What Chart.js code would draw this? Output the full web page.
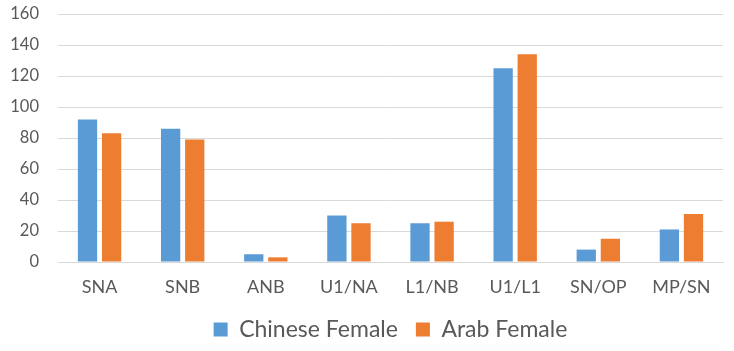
<!DOCTYPE html>
<html>
<head>
<meta charset="utf-8">
<script src="https://cdn.jsdelivr.net/npm/chart.js@4/dist/chart.umd.min.js"></script>
<style>
  html, body { margin: 0; padding: 0; background: #fff; }
  #wrap { width: 734px; height: 351px; }
</style>
</head>
<body>
<div id="wrap"><canvas id="chart"></canvas></div>
<script>
const categories = ['SNA', 'SNB', 'ANB', 'U1/NA', 'L1/NB', 'U1/L1', 'SN/OP', 'MP/SN'];
const chineseFemale = [92, 86, 5, 30, 25, 125, 8, 21];
const arabFemale = [83, 79, 3, 25, 26, 134, 15, 31];
const yTicks = [0, 20, 40, 60, 80, 100, 120, 140, 160];

const textColor = '#595959';
const gridColor = '#d9d9d9';
const fontFamily = 'Lato';

new Chart(document.getElementById('chart').getContext('2d'), {
    type: 'bar',
    data: {
        labels: categories,
        datasets: [
            {
                label: 'Chinese Female',
                data: chineseFemale,
                backgroundColor: '#5B9BD5'
            },
            {
                label: 'Arab Female',
                data: arabFemale,
                backgroundColor: '#ED7D31'
            }
        ]
    },
    options: {
        responsive: true,
        maintainAspectRatio: false,
        animation: false,
        devicePixelRatio: 1,
        layout: {
            padding: { top: 14, right: 11, bottom: 0, left: 0 }
        },
        datasets: {
            bar: {
                categoryPercentage: 0.58,
                barPercentage: 0.8
            }
        },
        plugins: {
            legend: {
                position: 'bottom',
                fullSize: false,
                maxWidth: 648,
                labels: {
                    color: textColor,
                    font: { family: fontFamily, size: 23 },
                    boxWidth: 14,
                    boxHeight: 14,
                    padding: 18
                }
            },
            tooltip: { enabled: false }
        },
        scales: {
            x: {
                grid: { display: false, drawTicks: false },
                border: { display: true, color: gridColor, width: 1 },
                ticks: {
                    color: textColor,
                    font: { family: fontFamily, size: 18 },
                    padding: 14
                },
                afterFit: (axis) => {
                    axis.height = 38;
                    axis.paddingLeft = 0;
                    axis.paddingRight = 0;
                }
            },
            y: {
                min: yTicks[0],
                max: yTicks[yTicks.length - 1],
                grid: { color: gridColor, lineWidth: 1, drawTicks: false },
                border: { display: false },
                afterBuildTicks: (axis) => {
                    axis.ticks = yTicks.map(v => ({ value: v }));
                },
                ticks: {
                    color: textColor,
                    font: { family: fontFamily, size: 16.5 },
                    padding: 19
                },
                afterFit: (axis) => {
                    axis.width = 58;
                    axis.paddingTop = 0;
                    axis.paddingBottom = 0;
                }
            }
        }
    }
});
</script>
</body>
</html>
